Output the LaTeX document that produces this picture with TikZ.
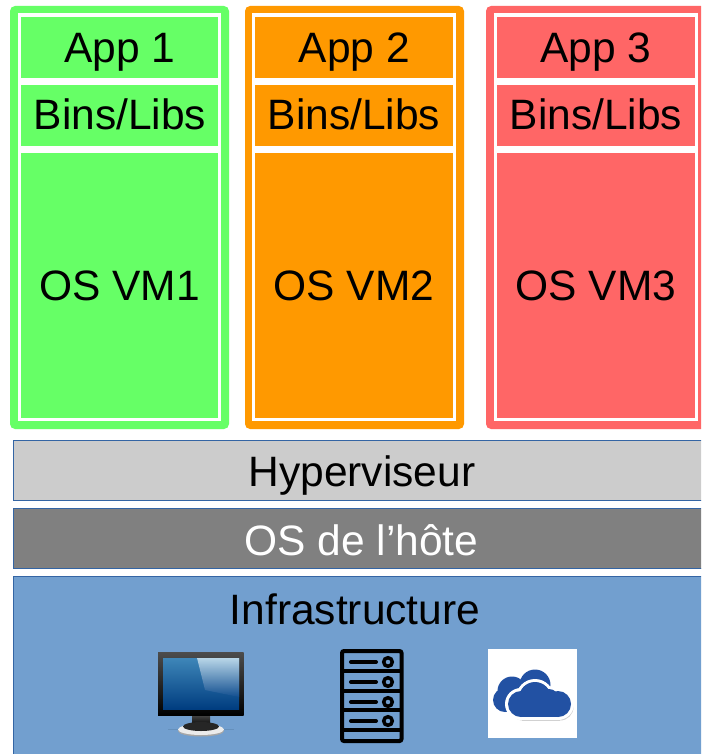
\documentclass[tikz,border=0pt]{standalone}
\usepackage{fontspec}
\setmainfont{Liberation Sans}
\definecolor{vmgreen}{HTML}{66FF66}
\definecolor{vmorange}{HTML}{FF9900}
\definecolor{vmred}{HTML}{FF6666}
\definecolor{barline}{HTML}{3465A4}
\definecolor{hypgray}{HTML}{CCCCCC}
\definecolor{hostgray}{HTML}{808080}
\definecolor{infrablue}{HTML}{729FCF}
\definecolor{cloudblue}{HTML}{2251A3}
\definecolor{screentop}{HTML}{3E86B8}
\definecolor{screenbot}{HTML}{003D80}
\definecolor{glosstop}{HTML}{B8D6E8}
\definecolor{glossbot}{HTML}{124F90}
\definecolor{shadowblue}{HTML}{6590BC}
\tikzset{
  lbl/.style={anchor=base,inner sep=0pt,font=\fontsize{42.5}{50}\selectfont,text=black},
  wlbl/.style={lbl,text=white},
  bar/.style={draw=barline,line width=1pt},
  vmouter/.style={rounded corners=5pt},
  srv/.style={draw=black,line width=4pt},
  srvdash/.style={draw=black,line width=4pt,line cap=round},
}
\newcommand{\vmcol}[5]{% left outer, right outer, white left, white right, colour
  \fill[#5,vmouter] (#1,6) rectangle (#2,429);
  \fill[white] (#3,13) rectangle (#4,421);
  \fill[#5] (#3+3,17) rectangle (#4-3,78);
  \fill[#5] (#3+3,85) rectangle (#4-3,146);
  \fill[#5] (#3+3,153) rectangle (#4-3,418);
}
\begin{document}
\begin{tikzpicture}[x=1pt,y=-1pt]
\clip (0,0) rectangle (701,754);
\fill[white] (0,0) rectangle (701,754);
% VM columns
\vmcol{10}{229}{18}{221}{vmgreen}
\vmcol{245}{464}{252}{456}{vmorange}
\vmcol{486}{715}{494}{698}{vmred}
\node[lbl] (app1) at (120,62.5) {App 1};
\node[lbl] (bins1) at (120,130) {Bins/Libs};
\node[lbl] (os1) at (119.5,300) {OS VM1};
\node[lbl] (app2) at (354.5,62.5) {App 2};
\node[lbl] (bins2) at (354,130) {Bins/Libs};
\node[lbl] (os2) at (354,300) {OS VM2};
\node[lbl] (app3) at (596,62.5) {App 3};
\node[lbl] (bins3) at (596,130) {Bins/Libs};
\node[lbl] (os3) at (596,300) {OS VM3};
% Bars
\path[bar,fill=hypgray] (13.5,440.5) rectangle (720,500.5);
\path[bar,fill=hostgray] (13.5,508.5) rectangle (720,568.5);
\path[bar,fill=infrablue] (13.5,576.5) rectangle (720,770);
\node[lbl] (hyp) at (362,486) {Hyperviseur};
\node[wlbl] (host) at (361.5,555) {OS de l’hôte};
\node[lbl] (infra) at (355,624) {Infrastructure};
% Monitor icon
\fill[shadowblue] (168,728.5) rectangle (234,730);
\shade[top color=black!70,bottom color=black] (192,714) rectangle (210,726);
\fill[black!35] (201,731) ellipse [x radius=23,y radius=5.5];
\fill[white!92!black] (201,729.5) ellipse [x radius=23,y radius=5.5];
\fill[black!85] (201,726.5) ellipse [x radius=18,y radius=4.5];
\shade[top color=black!70,bottom color=black] (158,652) rectangle (243.5,715);
\shade[top color=screentop,bottom color=screenbot] (163,658) rectangle (239,709);
\shade[top color=glosstop,bottom color=glossbot]
  (197,658) -- (239,658) -- (239,697) -- (205,690) -- cycle;
% Server icon
\path[srv,rounded corners=2pt] (342,651) rectangle (401.5,741);
\foreach \yy in {671,690.5,710,729.5} \path[srv] (342,\yy) -- (401.5,\yy);
\foreach \yy in {662,682,702,721}{
  \path[srvdash] (351,\yy) -- (376,\yy);
  \path[draw=black,line width=3.5pt] (388,\yy) circle (4.3);
}
% Cloud icon
\fill[white] (488,649) rectangle (577,738);
\foreach \r/\c in {3/white,0/cloudblue}{
  \fill[\c] (512,691) circle (14.5+\r);
  \fill[\c] (535,685) circle (15.5+\r);
  \fill[\c] (505,700) circle (12+\r);
  \fill[\c] (505,695-\r) rectangle (548,712+\r);
}
\fill[black!18] (523,707) circle (13.5);
\fill[black!18] (560,707) circle (13.5);
\fill[black!18] (522,708) rectangle (560,720.5);
\foreach \r/\c in {3/white,0/cloudblue}{
  \fill[\c] (521,704) circle (13+\r);
  \fill[\c] (535,698) circle (16+\r);
  \fill[\c] (558,704) circle (13+\r);
  \fill[\c] (549,699) circle (10+\r);
  \fill[\c] (521,695-\r) rectangle (558,717+\r);
}
\end{tikzpicture}
\end{document}
